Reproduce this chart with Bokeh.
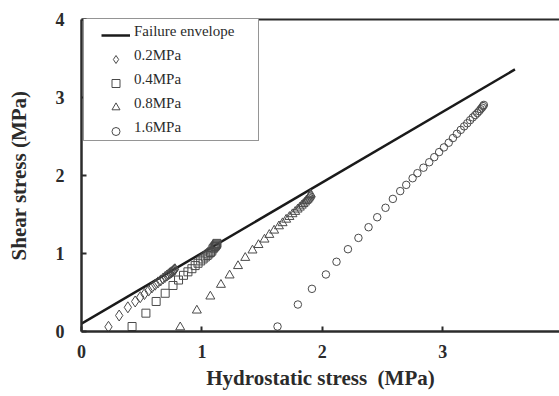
from bokeh.plotting import figure
from bokeh.models import Range1d, Legend, LegendItem, LinearAxis, FixedTicker
from bokeh.embed import file_html
from bokeh.resources import INLINE

# Failure envelope (straight line)
env_x = [0.0, 3.60]
env_y = [0.10, 3.36]

# 0.2 MPa (diamonds)
d_x = [0.224, 0.313, 0.385, 0.446, 0.488, 0.523, 0.557, 0.585, 0.612, 0.636, 0.658,
       0.678, 0.695, 0.710, 0.723, 0.735, 0.745, 0.754, 0.761, 0.767, 0.772, 0.776]
d_y = [0.060, 0.205, 0.310, 0.385, 0.440, 0.480, 0.525, 0.565, 0.600, 0.630, 0.655,
       0.680, 0.700, 0.718, 0.733, 0.747, 0.758, 0.768, 0.777, 0.785, 0.792, 0.798]

# 0.4 MPa (squares)
s_x = [0.420, 0.535, 0.620, 0.695, 0.760, 0.806, 0.847, 0.884, 0.917, 0.944, 0.968,
       0.990, 1.010, 1.028, 1.044, 1.058, 1.071, 1.082, 1.092, 1.100, 1.107, 1.113,
       1.118, 1.122, 1.125]
s_y = [0.064, 0.235, 0.385, 0.490, 0.590, 0.660, 0.720, 0.765, 0.805, 0.845, 0.875,
       0.905, 0.930, 0.955, 0.975, 0.995, 1.013, 1.030, 1.060, 1.075, 1.090, 1.100,
       1.110, 1.120, 1.130]

# 0.8 MPa (triangles)
t_x = [0.820, 0.958, 1.070, 1.158, 1.230, 1.300, 1.360, 1.420, 1.470, 1.520, 1.560,
       1.600, 1.640, 1.670, 1.700, 1.727, 1.752, 1.775, 1.795, 1.813, 1.829, 1.843,
       1.856, 1.867, 1.877, 1.885, 1.892, 1.897, 1.901, 1.904]
t_y = [0.055, 0.270, 0.450, 0.600, 0.720, 0.840, 0.945, 1.040, 1.110, 1.180, 1.240,
       1.295, 1.350, 1.390, 1.435, 1.470, 1.505, 1.535, 1.565, 1.590, 1.615, 1.635,
       1.655, 1.675, 1.690, 1.705, 1.720, 1.735, 1.750, 1.760]

# 1.6 MPa (circles)
c_x = [1.628, 1.797, 1.914, 2.030, 2.118, 2.213, 2.300, 2.384, 2.456, 2.525, 2.586,
       2.647, 2.697, 2.750, 2.790, 2.840, 2.888, 2.930, 2.970, 3.010, 3.050, 3.085,
       3.118, 3.150, 3.178, 3.204, 3.228, 3.250, 3.270, 3.287, 3.302, 3.315, 3.326,
       3.335, 3.342]
c_y = [0.064, 0.346, 0.547, 0.731, 0.894, 1.055, 1.200, 1.337, 1.465, 1.586, 1.700,
       1.800, 1.880, 1.965, 2.030, 2.100, 2.170, 2.235, 2.300, 2.360, 2.420, 2.480,
       2.535, 2.585, 2.630, 2.670, 2.710, 2.745, 2.775, 2.800, 2.825, 2.850, 2.870,
       2.890, 2.905]

series_labels = ["Failure envelope", "0.2MPa", "0.4MPa", "0.8MPa", "1.6MPa"]
x_ticks = [0, 1, 2, 3, 4]
y_ticks = [0, 1, 2, 3, 4]
x_title = "Hydrostatic stress\u00a0 (MPa)"
y_title = "Shear stress (MPa)"

FONT = "Liberation Serif"
INK = "#2b2b2b"
MK = "#4a4a4a"

p = figure(width=559, height=396, output_backend="svg", toolbar_location=None,
           x_range=Range1d(0, 3.97), y_range=Range1d(0, 4),
           min_border_left=81, min_border_right=0, min_border_top=19,
           min_border_bottom=65, background_fill_color="white",
           border_fill_color="white", outline_line_color=None)
p.xgrid.visible = False
p.ygrid.visible = False

for ax in (p.xaxis[0], p.yaxis[0]):
    ax.axis_line_color = INK
    ax.axis_line_width = 2.5
    ax.major_tick_line_color = INK
    ax.major_tick_line_width = 2
    ax.major_tick_in = 5
    ax.major_tick_out = 0
    ax.minor_tick_line_color = None
    ax.major_label_text_font = FONT
    ax.major_label_text_font_style = "bold"
    ax.major_label_text_font_size = "18px"
    ax.major_label_text_color = INK
    ax.axis_label_text_font = FONT
    ax.axis_label_text_font_style = "bold"
    ax.axis_label_text_font_size = "21px"
    ax.axis_label_text_color = INK

p.xaxis.ticker = FixedTicker(ticks=x_ticks)
p.yaxis.ticker = FixedTicker(ticks=y_ticks)
p.xaxis.axis_label = x_title
p.yaxis.axis_label = y_title
p.xaxis.major_label_standoff = 13
p.xaxis.axis_label_standoff = 5
p.yaxis.major_label_standoff = 17
p.yaxis.axis_label_standoff = 22

top = LinearAxis(ticker=FixedTicker(ticks=[]), axis_line_color=INK, axis_line_width=2,
                 major_tick_line_color=None, minor_tick_line_color=None)
p.add_layout(top, "above")

r_env = p.line(env_x, env_y, line_color="#1a1a1a", line_width=2.5)
r_d = p.scatter(d_x, d_y, marker="diamond", size=11, line_color=MK, line_width=1,
                fill_color=None)
r_s = p.scatter(s_x, s_y, marker="square", size=8, line_color=MK, line_width=1,
                fill_color=None)
r_t = p.scatter(t_x, t_y, marker="triangle", size=9, line_color=MK, line_width=1,
                fill_color=None)
r_c = p.scatter(c_x, c_y, marker="circle", size=7.5, line_color=MK, line_width=1,
                fill_color=None)

# invisible stand-ins so the boxed legend carries only the labels
dummies = [p.line(x=[], y=[], line_alpha=0) for _ in series_labels]

box_legend = Legend(
    items=[LegendItem(label=lab, renderers=[r]) for lab, r in zip(series_labels, dummies)],
    location=(2, 190), margin=0, padding=3, spacing=4,
    glyph_width=44, glyph_height=20, label_height=20, label_width=121,
    label_standoff=3, label_text_font=FONT, label_text_font_size="15px",
    label_text_color=INK, border_line_color=INK, border_line_width=1.5,
    background_fill_color="white", background_fill_alpha=1.0)
p.add_layout(box_legend, "center")

glyph_legend = Legend(
    items=[LegendItem(label=" ", renderers=[r]) for r in [r_env, r_d, r_s, r_t, r_c]],
    location=(20, 190), margin=0, padding=3, spacing=4,
    glyph_width=29, glyph_height=20, label_height=20, label_width=1,
    label_standoff=0, label_text_font_size="15px",
    border_line_color=None, background_fill_alpha=0.0)
p.add_layout(glyph_legend, "center")

open("out.html", "w").write(file_html(p, INLINE))
